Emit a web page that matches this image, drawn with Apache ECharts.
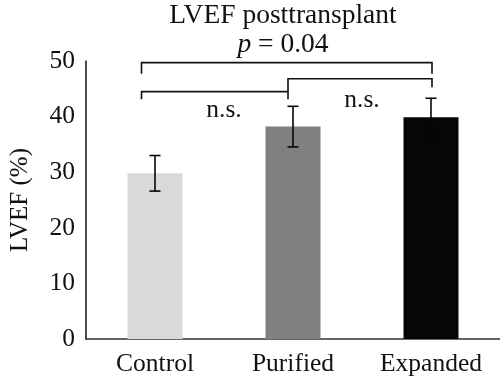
<!DOCTYPE html>
<html>
<head>
<meta charset="utf-8">
<script src="https://cdn.jsdelivr.net/npm/echarts@6/dist/echarts.min.js"></script>
<style>html,body{margin:0;padding:0;background:#fff}#c{width:500px;height:381px}</style>
</head>
<body>
<div id="c"></div>
<script>
// ---- data ----
const categories = ['Control', 'Purified', 'Expanded'];
const means = [29.8, 38.2, 39.9];
const errors = [3.2, 3.65, 3.4];
const yTicks = [0, 10, 20, 30, 40, 50];
// brackets: [fromCategoryIndex, toCategoryIndex, barValue, leftEndValue, rightEndValue]
const brackets = [
  [0, 2, 49.7, 47.7, 47.7],
  [1, 2, 46.8, 44.5, 45.3],
  [0, 1, 44.5, 43.1, 43.1]
];
const bracketLabels = ['p = 0.04', 'n.s.', 'n.s.'];
// n.s. label positions: [categoryPosition, value]
const nsLabels = [[1.5, 42.9], [0.5, 41.1]];

// ---- style ----
const FONT = 'Liberation Serif';
const barColors = ['#d9d9d9', '#808080', '#050608'];
// pixel offsets of bracket ends relative to category centres
const bracketOffsets = [[-13.5, 1], [-5, 1], [-13.5, -5]];

const chart = echarts.init(document.getElementById('c'));
chart.setOption({
  animation: false,
  title: {
    text: '{a|LVEF posttransplant}\n{i|p}{a| = 0.04}',
    left: 283, top: 1, textAlign: 'center', padding: 0,
    textStyle: {
      fontWeight: 'normal',
      rich: {
        a: {fontFamily: FONT, fontSize: 27.5, fontWeight: 'normal', color: '#111', lineHeight: 29},
        i: {fontFamily: FONT, fontSize: 27.5, fontWeight: 'normal', color: '#111', fontStyle: 'italic', lineHeight: 29}
      }
    }
  },
  grid: {left: 82, right: 0, top: 61, bottom: 42},
  xAxis: {
    type: 'category', data: categories,
    axisLine: {lineStyle: {color: '#333', width: 1.5}},
    axisTick: {show: false},
    axisLabel: {fontFamily: FONT, fontSize: 25.5, color: '#111', margin: 12}
  },
  yAxis: {
    type: 'value', min: yTicks[0], max: yTicks[yTicks.length - 1], interval: 10,
    name: 'LVEF (%)', nameLocation: 'middle', nameGap: 53,
    nameTextStyle: {fontFamily: FONT, fontSize: 25, color: '#111'},
    axisLine: {show: true, lineStyle: {color: '#111', width: 1.5}},
    axisTick: {show: false},
    splitLine: {show: false},
    axisLabel: {fontFamily: FONT, fontSize: 25.5, color: '#111', margin: 11}
  },
  series: [
    {
      type: 'bar', barWidth: 55,
      data: means.map((v, i) => ({value: v, itemStyle: {color: barColors[i]}}))
    },
    {
      type: 'custom', z: 5,
      data: means.map((m, i) => [i, m, errors[i]]),
      renderItem: function (params, api) {
        const i = api.value(0), m = api.value(1), e = api.value(2);
        const top = api.coord([i, m + e]);
        const bot = api.coord([i, m - e]);
        const x = top[0], w = 5.5;
        const st = {stroke: '#060606', lineWidth: 1.6};
        return {type: 'group', children: [
          {type: 'line', shape: {x1: x, y1: top[1], x2: x, y2: bot[1]}, style: st},
          {type: 'line', shape: {x1: x - w, y1: top[1], x2: x + w, y2: top[1]}, style: st},
          {type: 'line', shape: {x1: x - w, y1: bot[1], x2: x + w, y2: bot[1]}, style: st}
        ]};
      }
    },
    {
      type: 'custom', z: 6,
      data: brackets,
      renderItem: function (params, api) {
        const k = params.dataIndex;
        const a = api.value(0), b = api.value(1);
        const yBar = api.coord([a, api.value(2)])[1];
        const yL = api.coord([a, api.value(3)])[1];
        const yR = api.coord([b, api.value(4)])[1];
        const xL = api.coord([a, 0])[0] + bracketOffsets[k][0];
        const xR = api.coord([b, 0])[0] + bracketOffsets[k][1];
        return {type: 'polyline',
          shape: {points: [[xL, yL], [xL, yBar], [xR, yBar], [xR, yR]]},
          style: {stroke: '#111', lineWidth: 1.6, fill: null}};
      }
    },
    {
      type: 'custom', z: 7,
      data: nsLabels,
      renderItem: function (params, api) {
        const pos = api.coord([api.value(0), api.value(1)]);
        const i0 = Math.floor(api.value(0));
        const x0 = api.coord([i0, 0])[0], x1 = api.coord([i0 + 1, 0])[0];
        const x = x0 + (x1 - x0) * (api.value(0) - i0);
        return {type: 'text', x: x, y: pos[1],
          style: {text: bracketLabels[params.dataIndex + 1], fontFamily: FONT, fontSize: 25.5,
            fill: '#111', align: 'center', verticalAlign: 'middle'}};
      }
    }
  ]
});
</script>
</body>
</html>
